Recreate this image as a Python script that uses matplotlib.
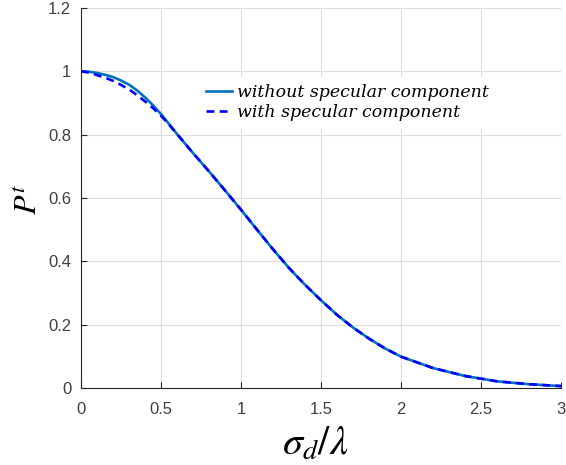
import matplotlib
matplotlib.use("Agg")
import matplotlib.pyplot as plt

# data
x_vals = [0.0, 0.05, 0.1, 0.15, 0.2, 0.25, 0.3, 0.35, 0.4, 0.45, 0.5, 0.55, 0.6,
          0.7, 0.8, 0.9, 1.0, 1.1, 1.2, 1.3, 1.4, 1.5, 1.6, 1.7, 1.8, 1.9, 2.0,
          2.2, 2.4, 2.6, 2.8, 3.0]
p_without = [1.0, 0.999, 0.995, 0.989, 0.982, 0.971, 0.958, 0.940, 0.918, 0.893,
             0.865, 0.834, 0.802, 0.742, 0.684, 0.624, 0.563, 0.500, 0.438, 0.379,
             0.326, 0.277, 0.231, 0.191, 0.156, 0.125, 0.099, 0.063, 0.038, 0.021,
             0.012, 0.006]
p_with = [1.0, 0.996, 0.988, 0.980, 0.970, 0.957, 0.943, 0.925, 0.905, 0.884,
          0.860, 0.832, 0.802, 0.742, 0.684, 0.624, 0.563, 0.500, 0.438, 0.379,
          0.326, 0.277, 0.231, 0.191, 0.156, 0.125, 0.099, 0.063, 0.038, 0.021,
          0.012, 0.006]
labels = ["without specular component", "with specular component"]
x_ticks = [0, 0.5, 1, 1.5, 2, 2.5, 3]
x_ticklabels = ["0", "0.5", "1", "1.5", "2", "2.5", "3"]
y_ticks = [0, 0.2, 0.4, 0.6, 0.8, 1.0, 1.2]
y_ticklabels = ["0", "0.2", "0.4", "0.6", "0.8", "1", "1.2"]

plt.rcParams['mathtext.fontset'] = 'stix'

fig = plt.figure(figsize=(5.66, 4.65), dpi=100)
ax = fig.add_axes([81/566, 1-388/465, 480/566, 380/465])

ax.plot(x_vals, p_without, color='#0072BD', lw=1.9, label=labels[0], zorder=3,
        solid_joinstyle='round')
ax.plot(x_vals, p_with, color='#0000FF', lw=1.9, ls=(0, (3, 2)), label=labels[1],
        zorder=4)

ax.set_xlim(0, 3)
ax.set_ylim(0, 1.2)
ax.set_xticks(x_ticks)
ax.set_xticklabels(x_ticklabels)
ax.set_yticks(y_ticks)
ax.set_yticklabels(y_ticklabels)
ax.grid(True, color='#dcdcdc', lw=0.8)
ax.set_axisbelow(True)
for s in ['top', 'right']:
    ax.spines[s].set_visible(False)
for s in ['left', 'bottom']:
    ax.spines[s].set_color('#262626')
    ax.spines[s].set_linewidth(0.8)
ax.tick_params(direction='in', length=4, width=0.8, colors='#262626',
               labelsize=12)
ax.tick_params(axis='x', pad=10)
ax.tick_params(axis='y', pad=7)
for lab in ax.get_xticklabels() + ax.get_yticklabels():
    lab.set_fontfamily('Liberation Sans')
    lab.set_color('#404040')

ax.set_xlabel(r'$\sigma_d/\lambda$', fontsize=29)
ax.xaxis.set_label_coords((315-81)/480, (388-424)/380)
ax.set_ylabel(r'$P^t$', fontsize=23)
ax.yaxis.set_label_coords((44-81)/480, (388-199)/380)

leg = ax.legend(loc='upper left', bbox_to_anchor=(190/566, 1-68/465),
                bbox_transform=fig.transFigure, frameon=True, fancybox=False,
                framealpha=1, facecolor='white', edgecolor='none',
                prop={'family': 'DejaVu Serif', 'style': 'italic', 'size': 12.5},
                handlelength=1.5, handletextpad=0.3, labelspacing=0.2,
                borderpad=0.4)

fig.savefig('out.png', dpi=100)
